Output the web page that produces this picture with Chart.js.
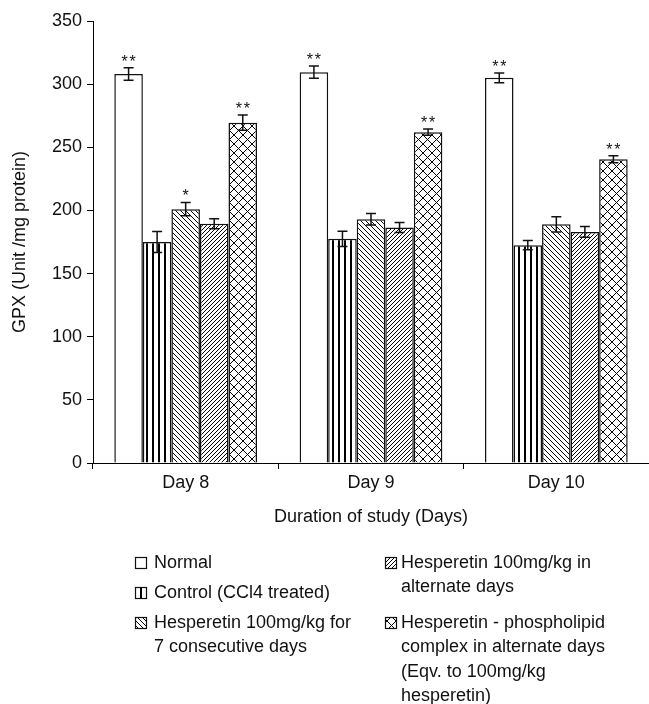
<!DOCTYPE html>
<html>
<head>
<meta charset="utf-8">
<script src="https://cdn.jsdelivr.net/npm/chart.js@4.4.1/dist/chart.umd.min.js"></script>
<style>
html, body { margin: 0; padding: 0; background: #fff; }
#wrap { width: 649px; height: 704px; }
</style>
</head>
<body>
<div id="wrap"><canvas id="gpxChart" width="649" height="704"></canvas></div>
<script>
// values
const days = ['Day 8', 'Day 9', 'Day 10'];

const normalVals = [308, 309.5, 305];
const normalErr = [5, 4.8, 3.8];
const normalStars = ['**', '**', '**'];

const controlVals = [175, 177.5, 172.5];
const controlErr = [8.3, 6, 3.6];
const controlStars = ['', '', ''];

const hesp7Vals = [201, 193, 189];
const hesp7Err = [5.3, 4.5, 6];
const hesp7Stars = ['*', '', ''];

const hespAltVals = [189.5, 186.5, 183];
const hespAltErr = [4, 4, 4.2];
const hespAltStars = ['', '', ''];

const complexVals = [269.5, 262, 240.5];
const complexErr = [6, 2.4, 2.8];
const complexStars = ['**', '**', '**'];

const legendLabels = [
    ['Normal'],
    ['Control (CCl4 treated)'],
    ['Hesperetin 100mg/kg for', '7 consecutive days'],
    ['Hesperetin 100mg/kg in', 'alternate days'],
    ['Hesperetin - phospholipid', 'complex in alternate days', '(Eqv. to 100mg/kg', 'hesperetin)']
];

const FONT = '"Liberation Sans", Arial, sans-serif';
const INK = '#111';

// small tiles used as bar fills
function makePattern(kind) {
    if (kind === 'plain') return '#ffffff';
    const c = document.createElement('canvas');
    const s = kind === 'vert' ? 6 : kind === 'back' ? 5 : kind === 'fwd' ? 4 : 9;
    c.width = s; c.height = s;
    const g = c.getContext('2d');
    g.fillStyle = '#fff';
    g.fillRect(0, 0, s, s);
    g.strokeStyle = '#000';
    g.fillStyle = '#000';
    g.lineWidth = 1;
    if (kind === 'vert') {
        g.fillRect(2, 0, 2, s);
    }
    if (kind === 'back' || kind === 'cross') {
        g.beginPath();
        g.moveTo(-1, -1); g.lineTo(s + 1, s + 1);
        g.moveTo(-1, s - 1); g.lineTo(1, s + 1);
        g.moveTo(s - 1, -1); g.lineTo(s + 1, 1);
        g.stroke();
    }
    if (kind === 'fwd' || kind === 'cross') {
        g.beginPath();
        g.moveTo(-1, s + 1); g.lineTo(s + 1, -1);
        g.moveTo(-1, 1); g.lineTo(1, -1);
        g.moveTo(s - 1, s + 1); g.lineTo(s + 1, s - 1);
        g.stroke();
    }
    return g.createPattern(c, 'repeat');
}

// error bars + significance stars
const errorBarPlugin = {
    id: 'errorBars',
    afterDatasetsDraw(chart) {
        const ctx = chart.ctx;
        const yScale = chart.scales.y;
        chart.data.datasets.forEach((ds, i) => {
            const meta = chart.getDatasetMeta(i);
            meta.data.forEach((bar, j) => {
                const v = ds.data[j];
                const e = ds.errors[j];
                const top = yScale.getPixelForValue(v + e);
                const bot = yScale.getPixelForValue(v - e);
                ctx.save();
                ctx.strokeStyle = INK;
                ctx.lineWidth = 1.5;
                ctx.beginPath();
                ctx.moveTo(bar.x, top); ctx.lineTo(bar.x, bot);
                ctx.moveTo(bar.x - 5, top); ctx.lineTo(bar.x + 5, top);
                ctx.moveTo(bar.x - 5, bot); ctx.lineTo(bar.x + 5, bot);
                ctx.stroke();
                const st = ds.stars[j];
                if (st) {
                    ctx.fillStyle = INK;
                    ctx.font = '16px ' + FONT;
                    ctx.textAlign = 'center';
                    ctx.textBaseline = 'alphabetic';
                    const n = st.length;
                    for (let k = 0; k < n; k++) {
                        ctx.fillText('*', bar.x + (k - (n - 1) / 2) * 8, top - 1);
                    }
                }
                ctx.restore();
            });
        });
    }
};

// two-column legend under the axis title
const legendPlugin = {
    id: 'gridLegend',
    afterDraw(chart) {
        const ctx = chart.ctx;
        const cols = [
            { box: 135, text: 154, starts: [563, 593, 623], items: [0, 1, 2] },
            { box: 385, text: 401, starts: [563, 623], items: [3, 4] }
        ];
        const lineH = 24.5;
        ctx.save();
        ctx.font = '18px ' + FONT;
        ctx.fillStyle = INK;
        ctx.textBaseline = 'middle';
        ctx.textAlign = 'left';
        cols.forEach(col => {
            col.items.forEach((idx, r) => {
                const ds = chart.data.datasets[idx];
                const y0 = col.starts[r];
                ctx.fillStyle = ds.backgroundColor;
                ctx.fillRect(col.box, y0 - 6, 12, 12);
                ctx.strokeStyle = INK;
                ctx.lineWidth = 1.2;
                ctx.strokeRect(col.box + 0.5, y0 - 5.5, 11, 11);
                ctx.fillStyle = INK;
                legendLabels[idx].forEach((line, k) => {
                    ctx.fillText(line, col.text, y0 + k * lineH);
                });
            });
        });
        ctx.restore();
    }
};

function series(label, vals, errs, stars, kind) {
    return {
        label: label,
        data: vals,
        errors: errs,
        stars: stars,
        backgroundColor: makePattern(kind),
        borderColor: INK,
        borderWidth: 1.5,
        categoryPercentage: 0.77,
        barPercentage: 1.0
    };
}

const chart = new Chart(document.getElementById('gpxChart').getContext('2d'), {
    type: 'bar',
    data: {
        labels: days,
        datasets: [
            series('Normal', normalVals, normalErr, normalStars, 'plain'),
            series('Control (CCl4 treated)', controlVals, controlErr, controlStars, 'vert'),
            series('Hesperetin 100mg/kg for 7 consecutive days', hesp7Vals, hesp7Err, hesp7Stars, 'back'),
            series('Hesperetin 100mg/kg in alternate days', hespAltVals, hespAltErr, hespAltStars, 'fwd'),
            series('Hesperetin - phospholipid complex in alternate days', complexVals, complexErr, complexStars, 'cross')
        ]
    },
    options: {
        responsive: false,
        animation: false,
        layout: { padding: { top: 21, left: 0, right: 0, bottom: 176 } },
        plugins: {
            legend: { display: false },
            tooltip: { enabled: false }
        },
        scales: {
            x: {
                grid: { display: true, drawOnChartArea: false, drawTicks: true, tickLength: 6, color: '#000', offset: true },
                border: { display: true, color: '#000', width: 1 },
                ticks: { color: INK, font: { family: FONT, size: 18 }, padding: 3 },
                title: { display: true, text: 'Duration of study (Days)', color: INK, font: { family: FONT, size: 18 }, padding: 0 },
                afterFit: s => { s.height = 65; }
            },
            y: {
                min: 0,
                max: 350,
                ticks: { stepSize: 50, color: INK, font: { family: FONT, size: 18 }, padding: 5 },
                grid: { display: true, drawOnChartArea: false, drawTicks: true, tickLength: 6, color: '#000' },
                border: { display: true, color: '#000', width: 1 },
                title: { display: true, text: 'GPX (Unit /mg protein)', color: INK, font: { family: FONT, size: 18 }, padding: { top: 9, bottom: 0 } },
                afterFit: s => { s.width = 93; }
            }
        }
    },
    plugins: [errorBarPlugin, legendPlugin]
});
</script>
</body>
</html>
